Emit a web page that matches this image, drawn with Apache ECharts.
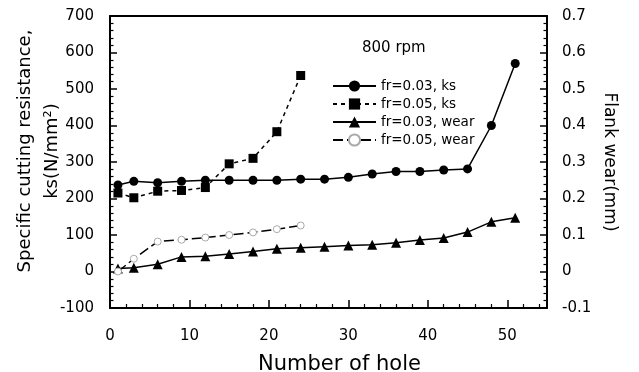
<!DOCTYPE html>
<html>
<head>
<meta charset="utf-8">
<script src="https://cdn.jsdelivr.net/npm/echarts@6/dist/echarts.min.js"></script>
<style>html,body{margin:0;padding:0;background:#fff}#c{width:639px;height:372px}</style>
</head>
<body>
<div id="c"></div>
<script>
// Data
var holesA = [1, 3, 6, 9, 12, 15, 18, 21, 24, 27, 30, 33, 36, 39, 42, 45, 48, 51];
var holesB = [1, 3, 6, 9, 12, 15, 18, 21, 24];
var ksA = [237, 247, 243, 247, 250, 250, 250, 250, 253, 253, 258, 267, 274, 274, 278, 281, 400, 570];
var ksB = [215, 202, 220, 222, 230, 295, 310, 383, 537];
var wearA = [0.008, 0.01, 0.02, 0.04, 0.042, 0.048, 0.055, 0.062, 0.065, 0.068, 0.071, 0.073, 0.079, 0.086, 0.092, 0.108, 0.136, 0.147];
var wearB = [0.0, 0.035, 0.082, 0.087, 0.093, 0.1, 0.107, 0.116, 0.126];
var seriesNames = ['fr=0.03, ks', 'fr=0.05, ks', 'fr=0.03, wear', 'fr=0.05, wear'];
var legendTitle = '800 rpm';
var xTitle = 'Number of hole';
var yLeftTitle = 'Specific cutting resistance,\nks(N/mm²)';
var yRightTitle = 'Flank wear(mm)';

function pairs(xs, ys) { return xs.map(function (x, i) { return [x, ys[i]]; }); }

var FONT = 'DejaVu Sans';
var chart = echarts.init(document.getElementById('c'), null, { renderer: 'canvas' });
var axisLine = { show: true, onZero: false, lineStyle: { color: '#000', width: 2 } };
var yMajorTick = { show: true, inside: true, length: 7, lineStyle: { color: '#000', width: 1.5 } };
var yMinorTick = { show: true, splitNumber: 5, length: 3.5, lineStyle: { color: '#000', width: 1.2 } };
chart.setOption({
  animation: false,
  backgroundColor: '#fff',
  title: {
    text: legendTitle, left: 362, top: 41, padding: 0,
    textStyle: { fontFamily: FONT, fontSize: 15, fontWeight: 'normal', color: '#000' }
  },
  legend: {
    orient: 'vertical', left: 332, top: 79, padding: 0,
    itemWidth: 43, itemHeight: 14, itemGap: 4,
    textStyle: { fontFamily: FONT, fontSize: 13.5, color: '#000', lineHeight: 14 },
    data: seriesNames
  },
  grid: { left: 110, right: 92, top: 16, bottom: 64, containLabel: false, outerBoundsMode: 'none' },
  xAxis: [{
    type: 'value', min: 0, max: 55, interval: 10, position: 'bottom',
    name: xTitle, nameLocation: 'middle', nameGap: 46, nameMoveOverlap: false,
    nameTextStyle: { fontFamily: FONT, fontSize: 21, color: '#000', padding: [0, 0, 0, 22] },
    axisLine: axisLine,
    axisTick: { show: true, inside: true, length: 8, lineStyle: { color: '#000', width: 1.5 } },
    minorTick: { show: true, splitNumber: 5, length: 4, lineStyle: { color: '#000', width: 1.2 } },
    axisLabel: { margin: 21, fontFamily: FONT, fontSize: 15, color: '#000', showMaxLabel: false },
    splitLine: { show: false }
  }, {
    type: 'value', position: 'top', min: 0, max: 55,
    axisLine: axisLine,
    axisTick: { show: false }, axisLabel: { show: false }, splitLine: { show: false }
  }],
  yAxis: [{
    type: 'value', min: -100, max: 700, interval: 100, position: 'left',
    name: yLeftTitle, nameLocation: 'middle', nameGap: 44, nameMoveOverlap: false,
    nameTextStyle: { fontFamily: FONT, fontSize: 18, color: '#000', lineHeight: 27, padding: [0, 0, 0, 22] },
    axisLine: axisLine,
    axisTick: yMajorTick,
    minorTick: yMinorTick,
    axisLabel: { margin: 16, fontFamily: FONT, fontSize: 15, color: '#000' },
    splitLine: { show: false }
  }, {
    type: 'value', min: -0.1, max: 0.7, interval: 0.1, position: 'right',
    name: yRightTitle, nameLocation: 'middle', nameGap: 54, nameRotate: -90, nameMoveOverlap: false,
    nameTextStyle: { fontFamily: FONT, fontSize: 17, color: '#000' },
    axisLine: axisLine,
    axisTick: yMajorTick,
    minorTick: yMinorTick,
    axisLabel: {
      margin: 15, fontFamily: FONT, fontSize: 15, color: '#000',
      formatter: function (v) { var r = Math.round(v * 10) / 10; return r === 0 ? '0' : String(r); }
    },
    splitLine: { show: false }
  }],
  series: [{
    name: seriesNames[0], type: 'line', yAxisIndex: 0, data: pairs(holesA, ksA),
    symbol: 'circle', symbolSize: 9,
    lineStyle: { color: '#000', width: 1.5 }, itemStyle: { color: '#000' }
  }, {
    name: seriesNames[1], type: 'line', yAxisIndex: 0, data: pairs(holesB, ksB),
    symbol: 'rect', symbolSize: 9,
    lineStyle: { color: '#000', width: 1.5, type: [4, 4] }, itemStyle: { color: '#000' }
  }, {
    name: seriesNames[2], type: 'line', yAxisIndex: 1, data: pairs(holesA, wearA),
    symbol: 'triangle', symbolSize: 10,
    lineStyle: { color: '#000', width: 1.5 }, itemStyle: { color: '#000' }
  }, {
    name: seriesNames[3], type: 'line', yAxisIndex: 1, data: pairs(holesB, wearB),
    symbol: 'circle', symbolSize: 7, showAllSymbol: true,
    lineStyle: { color: '#000', width: 1.5, type: [10, 4] },
    itemStyle: { color: '#fff', borderColor: '#aaa', borderWidth: 1 }
  }]
});
</script>
</body>
</html>
